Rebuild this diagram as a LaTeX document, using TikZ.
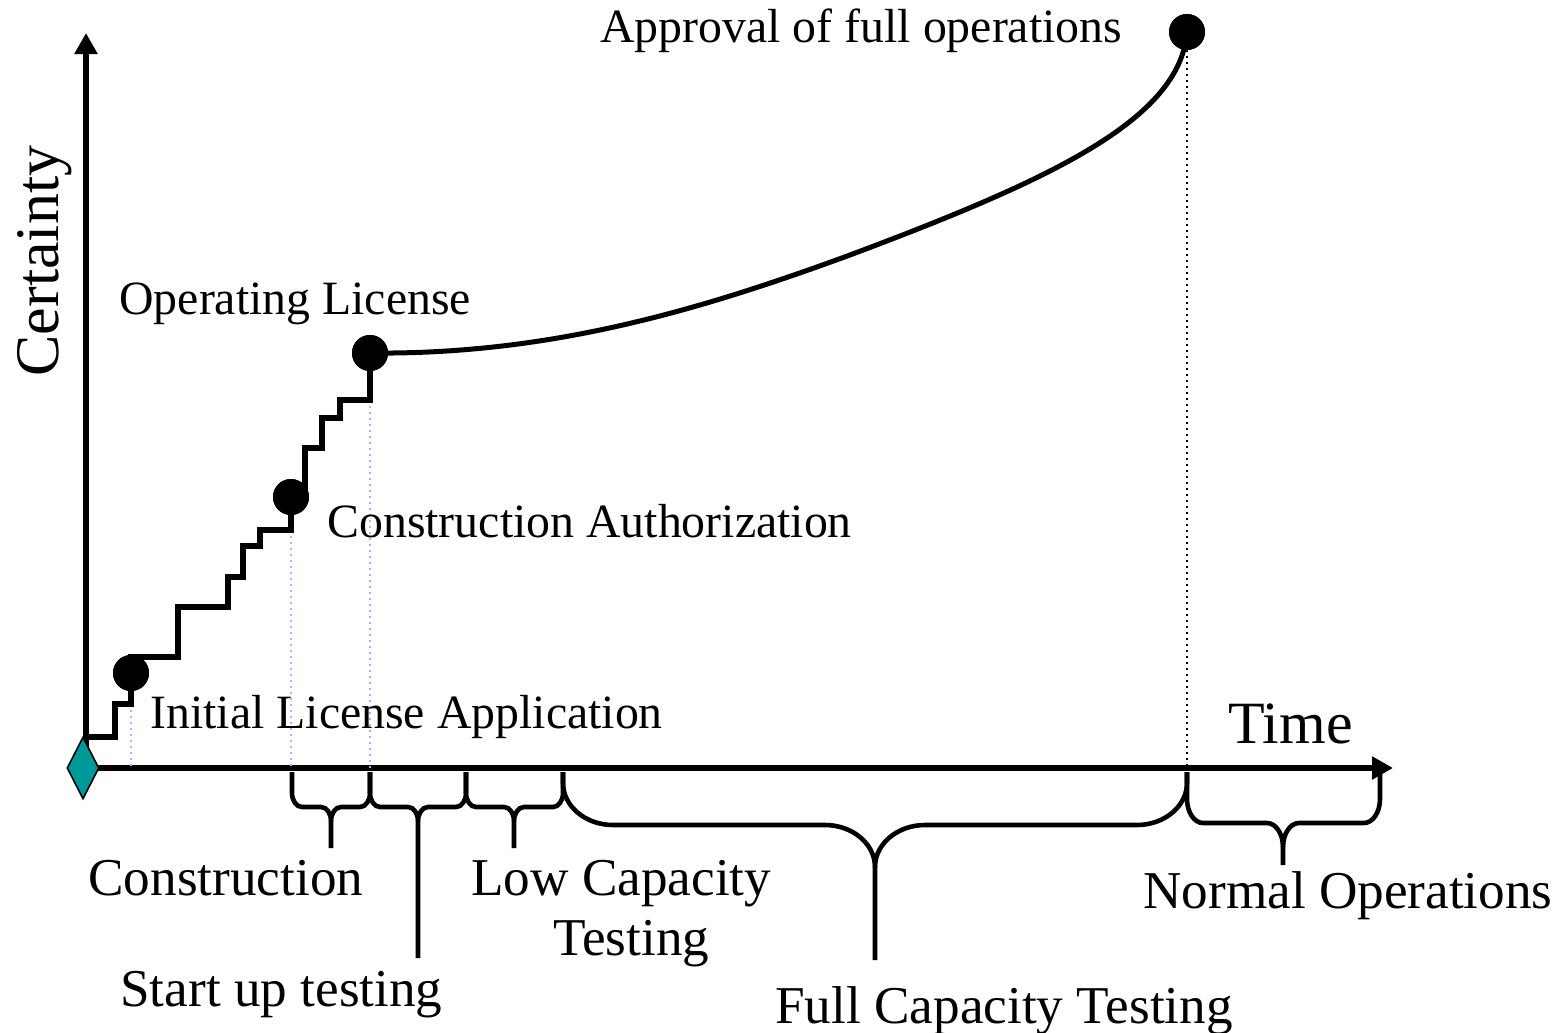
\documentclass[tikz,border=0pt]{standalone}
\usepackage{fontspec}
\setmainfont{Liberation Serif}
\usetikzlibrary{arrows.meta,shapes.geometric}
\definecolor{tealfill}{RGB}{0,153,153}
\definecolor{guideblue}{RGB}{175,175,255}
\newcommand\tlbrace[7]{%
  \draw[bracestyle] (#1,772) -- (#1,{#4-#7}) .. controls (#1,{#4-0.45*#7}) and ({#1+0.45*#6},#4) .. ({#1+#6},#4) -- ({#3-#6},#4) .. controls ({#3-0.45*#6},#4) and (#3,{#4+0.45*#7}) .. (#3,{#4+#7}) -- (#3,#5);
  \draw[bracestyle] (#2,772) -- (#2,{#4-#7}) .. controls (#2,{#4-0.45*#7}) and ({#2-0.45*#6},#4) .. ({#2-#6},#4) -- ({#3+#6},#4) .. controls ({#3+0.45*#6},#4) and (#3,{#4+0.45*#7}) .. (#3,{#4+#7});}
\tikzset{
  axisline/.style={line width=3pt, -{Triangle[length=10.5pt,width=11pt]}},
  stair/.style={line width=2.8pt, line join=miter},
  growth/.style={line width=2.5pt},
  guide/.style={guideblue, line width=1pt, dotted},
  blackguide/.style={black, line width=1pt, dotted},
  bracestyle/.style={line width=2.3pt, line cap=butt},
  milestone/.style={circle, fill=black, inner sep=0pt, minimum size=18pt},
  lbl/.style={font=\fontsize{23.9}{28}\selectfont, inner sep=0pt, anchor=base west},
  lblb/.style={font=\fontsize{26.6}{31}\selectfont, inner sep=0pt, anchor=base west},
}
\begin{document}
\begin{tikzpicture}[x=0.5pt,y=-0.5pt]
\useasboundingbox (0,0) rectangle (1564,1033);
% axes
\coordinate (O) at (86,768);
\coordinate (xend) at (1393,768);
\coordinate (yend) at (86,33);
\draw[axisline] (86,771) -- (yend);
\draw[axisline] (O) -- (xend);
% milestones
\node[milestone] (ila) at (131,673) {};
\node[milestone] (ca) at (291,497) {};
\node[milestone] (ol) at (370,353) {};
\node[milestone] (afo) at (1187,32) {};
% guides
\draw[guide] (131,704) -- (131,768);
\draw[guide] (291,530) -- (291,768);
\draw[guide] (370,400) -- (370,768);
\draw[blackguide] (afo.center) -- (1187,768);
% origin diamond
\node[diamond, draw=black, line width=0.8pt, fill=tealfill, inner sep=0pt, minimum width=16pt, minimum height=31pt] (orig) at (83,768) {};
% staircase
\draw[stair] (86,737) -- (115,737) -- (115,704) -- (131,704) -- (ila.center) -- (131,657) -- (178,657) -- (178,607) -- (228,607) -- (228,577) -- (243,577) -- (243,546) -- (260,546) -- (260,530) -- (291,530) -- (ca.center) -- (305,497) -- (305,448) -- (322,448) -- (322,418) -- (340,418) -- (340,400) -- (370,400) -- (ol.center);
\node[milestone] at (ila) {};
\node[milestone] at (ca) {};
\node[milestone] at (ol) {};
% growth curve
\draw[growth] (ol.center) .. controls (550,355) and (700,310) .. (850,255) .. controls (1050,180) and (1180,120) .. (afo.center);
\node[milestone] at (afo) {};
% braces
\tlbrace{292}{370}{331}{807}{848}{10}{14}
\tlbrace{370}{466}{418}{807}{958}{10}{14}
\tlbrace{466}{563}{514}{807}{848}{10}{14}
\tlbrace{563}{1187}{875}{825}{960}{50}{42}
\tlbrace{1187}{1380}{1283}{823}{865}{16}{24}
% labels
\node[lbl] (tafo) at (600,42) {Approval of full operations};
\node[lbl] (tol) at (119,314) {Operating License};
\node[lbl] (tca) at (327,537) {Construction Authorization};
\node[lbl] (tila) at (150,728) {Initial License Application};
\node[lbl, font=\fontsize{30}{34}\selectfont] (ttime) at (1228,743) {Time};
\node[font=\fontsize{31}{36}\selectfont, inner sep=0pt, rotate=90, anchor=base] (tcert) at (58,261) {Certainty};
\node[lblb] (tcon) at (88,895) {Construction};
\node[lblb] (tlow) at (471,895) {Low Capacity};
\node[lblb] (tlow2) at (553,955) {Testing};
\node[lblb] (tstart) at (120,1006) {Start up testing};
\node[lblb] (tfull) at (775,1023) {Full Capacity Testing};
\node[lblb] (tnorm) at (1143,908) {Normal Operations};
\end{tikzpicture}
\end{document}
